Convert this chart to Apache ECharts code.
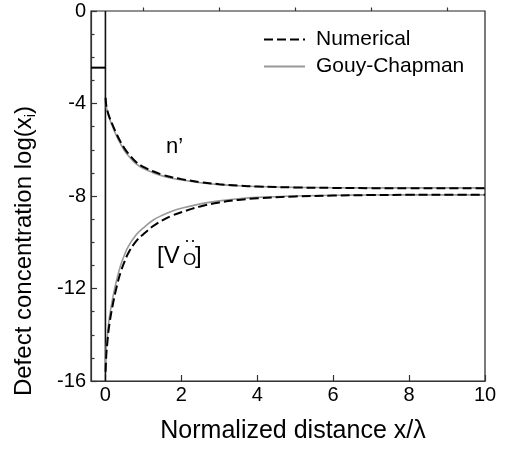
<!DOCTYPE html>
<html>
<head>
<meta charset="utf-8">
<script src="https://cdn.jsdelivr.net/npm/echarts@6/dist/echarts.min.js"></script>
<style>html,body{margin:0;padding:0;background:#fff}#c{width:509px;height:454px}</style>
</head>
<body>
<div id="c"></div>
<script>
// ---- data ----
const xs = [0.005, 0.02, 0.05, 0.1, 0.2, 0.3, 0.4, 0.5, 0.6, 0.8, 1.0, 1.25, 1.5, 1.75, 2.0, 2.5, 3.0, 3.5, 4.0, 5.0, 6.0, 7.0, 8.0, 9.0, 10.0];
const nNumerical = [-3.75, -4.05, -4.3, -4.57, -4.97, -5.34, -5.66, -5.94, -6.16, -6.52, -6.74, -6.93, -7.08, -7.19, -7.27, -7.4, -7.49, -7.55, -7.59, -7.63, -7.65, -7.66, -7.66, -7.66, -7.66];
const nGouy = [-3.8, -4.1, -4.35, -4.63, -5.05, -5.43, -5.75, -6.03, -6.25, -6.6, -6.81, -6.99, -7.13, -7.23, -7.31, -7.43, -7.51, -7.56, -7.59, -7.625, -7.64, -7.65, -7.65, -7.65, -7.65];
const vNumerical = [-15.6, -14.95, -14.35, -13.6, -12.65, -11.9, -11.3, -10.85, -10.48, -9.97, -9.65, -9.31, -9.05, -8.85, -8.7, -8.45, -8.28, -8.17, -8.1, -8.02, -7.98, -7.96, -7.95, -7.95, -7.95];
const vGouy = [-15.45, -14.65, -14.05, -13.3, -12.35, -11.6, -11.0, -10.55, -10.19, -9.7, -9.38, -9.05, -8.83, -8.66, -8.53, -8.34, -8.21, -8.12, -8.06, -8.0, -7.97, -7.96, -7.95, -7.95, -7.95];
const xMin = -0.38, xMax = 10;
const yMin = -16, yMax = 0;
const xMajorTicks = [0, 2, 4, 6, 8, 10];
const xMinorTicks = [1, 3, 5, 7, 9];
const interfaceX = 0;
const surfaceLevel = -2.45;
const legendNames = ['Numerical', 'Gouy-Chapman'];

const FONT = "'Liberation Sans', Arial, sans-serif";
const pair = (x, y) => x.map((v, i) => [v, y[i]]);

const chart = echarts.init(document.getElementById('c'), null, {renderer: 'canvas'});
const axisLineStyle = {color: '#333', width: 1.2};

chart.setOption({
  animation: false,
  backgroundColor: '#fff',
  grid: {left: 91, right: 24, top: 11, bottom: 73, show: true, borderColor: '#222', borderWidth: 1.2, containLabel: false},
  legend: {
    data: legendNames,
    orient: 'vertical',
    left: 258, top: 24,
    itemWidth: 41, itemHeight: 14, itemGap: 6,
    itemStyle: {opacity: 0},
    textStyle: {fontFamily: FONT, fontSize: 21, color: '#000', padding: [0, 0, 0, 6]}
  },
  xAxis: [{
    type: 'value', min: xMin, max: xMax,
    axisLine: {show: true, onZero: false, lineStyle: axisLineStyle},
    axisTick: {show: true, inside: true, length: 6, lineStyle: axisLineStyle, customValues: xMajorTicks},
    axisLabel: {customValues: xMajorTicks, fontFamily: FONT, fontSize: 20, color: '#000', margin: 4},
    splitLine: {show: false},
    name: 'Normalized distance x/λ', nameLocation: 'middle', nameGap: 38,
    nameTextStyle: {fontFamily: FONT, fontSize: 25, color: '#000', padding: [0, 0, 0, 10]}
  }, {
    type: 'value', min: xMin, max: xMax, position: 'bottom',
    axisLine: {show: false},
    axisTick: {show: true, inside: true, length: 3.5, lineStyle: axisLineStyle, customValues: xMinorTicks},
    axisLabel: {show: false}, splitLine: {show: false}
  }],
  yAxis: {
    type: 'value', min: yMin, max: yMax, interval: 4,
    axisLine: {show: true, onZero: false, lineStyle: axisLineStyle},
    axisTick: {show: true, inside: true, length: 6, lineStyle: axisLineStyle},
    minorTick: {show: true, splitNumber: 4, length: 3.5, lineStyle: axisLineStyle},
    axisLabel: {fontFamily: FONT, fontSize: 20, color: '#000', margin: 5},
    splitLine: {show: false},
    name: 'Defect concentration log(x{sub|i})', nameLocation: 'middle', nameGap: 53, nameRotate: 90,
    nameTextStyle: {fontFamily: FONT, fontSize: 24, color: '#000', padding: [0, 110, 0, 0],
      rich: {sub: {fontFamily: FONT, fontSize: 15, color: '#000', verticalAlign: 'bottom', padding: [12, 0, 0, 0]}}}
  },
  series: [
    {name: 'Gouy-Chapman', type: 'line', data: pair(xs, nGouy), smooth: 0.4, symbol: 'none',
      lineStyle: {color: '#999', width: 1.6}, itemStyle: {color: '#999'}, z: 2},
    {name: 'Gouy-Chapman', type: 'line', data: pair(xs, vGouy), smooth: 0.4, symbol: 'none',
      lineStyle: {color: '#999', width: 1.6}, itemStyle: {color: '#999'}, z: 2},
    {name: 'Numerical', type: 'line', data: pair(xs, nNumerical), smooth: 0.4, symbol: 'none',
      lineStyle: {color: '#000', width: 2, type: [9, 4]}, itemStyle: {color: '#000'}, z: 3},
    {name: 'Numerical', type: 'line', data: pair(xs, vNumerical), smooth: 0.4, symbol: 'none',
      lineStyle: {color: '#000', width: 2, type: [9, 4]}, itemStyle: {color: '#000'}, z: 3},
    {name: 'interface', type: 'line', data: [[interfaceX, yMax], [interfaceX, yMin]], symbol: 'none',
      lineStyle: {color: '#111', width: 1.6}, z: 1},
    {name: 'surface', type: 'line', data: [[xMin, surfaceLevel], [interfaceX, surfaceLevel]], symbol: 'none',
      lineStyle: {color: '#000', width: 2}, z: 1}
  ],
  graphic: [
    {type: 'text', left: 166, top: 136, style: {text: 'n’', fontFamily: FONT, fontSize: 22, fill: '#000'}},
    {type: 'text', left: 157, top: 244, style: {text: '[V', fontFamily: FONT, fontSize: 24, fill: '#000'}},
    {type: 'text', left: 183, top: 252, style: {text: 'O', fontFamily: FONT, fontSize: 17, fill: '#000'}},
    {type: 'text', left: 184, top: 232, style: {text: '··', fontFamily: FONT, fontSize: 18, fill: '#000'}},
    {type: 'text', left: 195, top: 244, style: {text: ']', fontFamily: FONT, fontSize: 24, fill: '#000'}}
  ]
});
</script>
</body>
</html>
